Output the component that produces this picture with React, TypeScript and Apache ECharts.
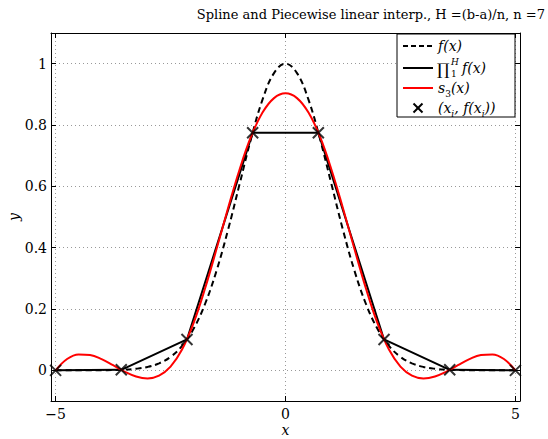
import React, { useEffect, useRef } from "react";
import * as echarts from "echarts";

const gridX = [
  -5, -4.75, -4.5, -4.25, -4, -3.75, -3.5, -3.25, -3, -2.75, -2.5, -2.25, -2, -1.75, -1.5, -1.25, -1, -0.75, -0.5, -0.25,
  0, 0.25, 0.5, 0.75, 1, 1.25, 1.5, 1.75, 2, 2.25, 2.5, 2.75, 3, 3.25, 3.5, 3.75, 4, 4.25, 4.5, 4.75, 5,
];
const fY = [
  0.0, 0.0, 0.0, 0.0001, 0.0003, 0.0009, 0.0022, 0.0051, 0.0111, 0.0228, 0.0439, 0.0796, 0.1353, 0.2163, 0.3247, 0.4578, 0.6065, 0.7548, 0.8825, 0.9692,
  1.0, 0.9692, 0.8825, 0.7548, 0.6065, 0.4578, 0.3247, 0.2163, 0.1353, 0.0796, 0.0439, 0.0228, 0.0111, 0.0051, 0.0022, 0.0009, 0.0003, 0.0001, 0.0, 0.0, 0.0,
];
const sY = [
  0.0, 0.0371, 0.052, 0.05, 0.0364, 0.0166, -0.004, -0.0201, -0.0263, -0.0173, 0.0122, 0.0677, 0.1538, 0.2668, 0.3955, 0.5284, 0.6543, 0.7617, 0.8404, 0.8876,
  0.9033, 0.8876, 0.8404, 0.7617, 0.6543, 0.5284, 0.3955, 0.2668, 0.1538, 0.0677, 0.0122, -0.0173, -0.0263, -0.0201, -0.004, 0.0166, 0.0364, 0.05, 0.052, 0.0371, 0.0,
];
const nodeX = [-5, -3.5714, -2.1429, -0.7143, 0.7143, 2.1429, 3.5714, 5];
const nodeY = [0.0, 0.0017, 0.1007, 0.7748, 0.7748, 0.1007, 0.0017, 0.0];
const xTicks = [-5, 0, 5];
const yTicks = [0, 0.2, 0.4, 0.6, 0.8, 1];

const titleText = "Spline and Piecewise linear interp., H =(b-a)/n, n =7";
const SERIF = "DejaVu Serif";
const CROSS = "path://M0 0L10 10M10 0L0 10";

export default function App() {
  const ref = useRef<HTMLDivElement>(null);
  useEffect(() => {
    if (!ref.current) return;
    const chart = echarts.init(ref.current, undefined, { renderer: "svg" });
    const pair = (xs: number[], ys: number[]) => xs.map((x, i) => [x, ys[i]]);
    const splitLine = { show: true, lineStyle: { color: "#999", width: 1, type: [1, 3] as any } };
    const baseX = {
      type: "value" as const,
      min: -5.1,
      max: 5.1,
      axisLine: { show: true, onZero: false, lineStyle: { color: "#000", width: 1 } },
      axisTick: { show: true, inside: true, length: 5, customValues: xTicks, lineStyle: { color: "#000" } },
    };
    const baseY = {
      type: "value" as const,
      min: -0.1,
      max: 1.1,
      axisLine: { show: true, onZero: false, lineStyle: { color: "#000", width: 1 } },
      axisTick: { show: true, inside: true, length: 5, customValues: yTicks, lineStyle: { color: "#000" } },
    };
    const legendX = 397;
    const legendY = 34;
    const rows = [46, 68, 88, 108];
    const rich = {
      i: { fontFamily: SERIF, fontStyle: "italic", fontSize: 14, lineHeight: 20, verticalAlign: "middle", color: "#000" },
      s: { fontFamily: SERIF, fontStyle: "italic", fontSize: 9, lineHeight: 20, verticalAlign: "bottom", color: "#000" },
      n: { fontFamily: SERIF, fontSize: 9, lineHeight: 20, verticalAlign: "bottom", color: "#000" },
    };
    const richText = (x: number, y: number, t: string) => ({
      type: "text",
      x,
      y,
      style: { text: t, rich, verticalAlign: "middle", fill: "#000" },
      z: 102,
    });
    const plain = (x: number, y: number, t: string, size: number, italic: boolean) => ({
      type: "text",
      x,
      y,
      style: {
        text: t,
        fill: "#000",
        fontSize: size,
        fontFamily: SERIF,
        fontStyle: italic ? "italic" : "normal",
        verticalAlign: "middle",
      },
      z: 102,
    });
    chart.setOption({
      animation: false,
      backgroundColor: "#fff",
      grid: { left: 51, right: 28, top: 33, bottom: 38, show: false, outerBoundsMode: "none", containLabel: false },
      xAxis: [
        {
          ...baseX,
          position: "bottom",
          name: "x",
          nameLocation: "middle",
          nameGap: 22,
          nameMoveOverlap: false,
          nameTextStyle: { fontFamily: SERIF, fontStyle: "italic", fontSize: 14, color: "#000" },
          axisLabel: {
            show: true,
            customValues: xTicks,
            formatter: (v: number) => (v < 0 ? "\u2212" + Math.abs(v) : String(v)),
            fontFamily: SERIF,
            fontSize: 14,
            color: "#000",
            margin: 6,
          },
          splitLine: { ...splitLine },
        },
        { ...baseX, position: "top", axisLabel: { show: false }, splitLine: { show: false } },
      ],
      yAxis: [
        {
          ...baseY,
          position: "left",
          name: "y",
          nameLocation: "middle",
          nameGap: 30,
          nameRotate: 90,
          nameMoveOverlap: false,
          nameTextStyle: { fontFamily: SERIF, fontStyle: "italic", fontSize: 14, color: "#000" },
          axisLabel: {
            show: true,
            customValues: yTicks,
            formatter: (v: number) => String(Math.round(v * 10) / 10),
            fontFamily: SERIF,
            fontSize: 14,
            color: "#000",
            margin: 4,
          },
          splitLine: { ...splitLine },
        },
        { ...baseY, position: "right", axisLabel: { show: false }, splitLine: { show: false } },
      ],
      series: [
        {
          name: "f(x)",
          type: "line",
          data: pair(gridX, fY),
          smooth: 0.4,
          showSymbol: false,
          lineStyle: { color: "#000", width: 2, type: [6, 4] as any },
          z: 3,
        },
        {
          name: "piecewise",
          type: "line",
          data: pair(nodeX, nodeY),
          showSymbol: false,
          lineStyle: { color: "#000", width: 2 },
          z: 4,
        },
        {
          name: "s3(x)",
          type: "line",
          data: pair(gridX, sY),
          smooth: 0.4,
          showSymbol: false,
          lineStyle: { color: "#ff0000", width: 2 },
          z: 5,
        },
        {
          name: "nodes",
          type: "scatter",
          data: pair(nodeX, nodeY),
          symbol: CROSS,
          symbolSize: 11,
          itemStyle: { color: "#000", borderColor: "#000", borderWidth: 2 },
          z: 6,
        },
      ],
      graphic: [
        {
          type: "text",
          right: 3,
          top: 8,
          style: { text: titleText, fill: "#000", fontSize: 13, fontFamily: SERIF },
        },
        {
          type: "rect",
          shape: { x: legendX, y: legendY, width: 118, height: 83 },
          style: { fill: "#fff", stroke: "#000", lineWidth: 1 },
          z: 100,
        },
        {
          type: "line",
          shape: { x1: 403, y1: rows[0], x2: 433, y2: rows[0] },
          style: { stroke: "#000", lineWidth: 2, lineDash: [5, 3] },
          z: 101,
        },
        {
          type: "line",
          shape: { x1: 403, y1: rows[1], x2: 433, y2: rows[1] },
          style: { stroke: "#000", lineWidth: 2 },
          z: 101,
        },
        {
          type: "line",
          shape: { x1: 403, y1: rows[2], x2: 433, y2: rows[2] },
          style: { stroke: "#ff0000", lineWidth: 2 },
          z: 101,
        },
        {
          type: "polyline",
          shape: { points: [[413.5, rows[3] - 4.5], [422.5, rows[3] + 4.5]] },
          style: { stroke: "#000", lineWidth: 2, fill: null },
          z: 101,
        },
        {
          type: "polyline",
          shape: { points: [[422.5, rows[3] - 4.5], [413.5, rows[3] + 4.5]] },
          style: { stroke: "#000", lineWidth: 2, fill: null },
          z: 101,
        },
        richText(438, rows[0], "{i|f(x)}"),
        plain(437, rows[1] + 1, "\u220F", 16, false),
        plain(451, rows[1] - 6, "H", 9, true),
        plain(451, rows[1] + 6, "1", 9, false),
        richText(462, rows[1], "{i|f(x)}"),
        richText(438, rows[2], "{i|s}{n|3}{i|(x)}"),
        richText(438, rows[3], "{i|(x}{s|i}{i|, f(x}{s|i}{i|))}"),
      ],
    });
    return () => chart.dispose();
  }, []);
  return (
    <div
      ref={ref}
      style={{ position: "fixed", left: 0, top: 0, width: 548, height: 439, background: "#fff" }}
    />
  );
}
